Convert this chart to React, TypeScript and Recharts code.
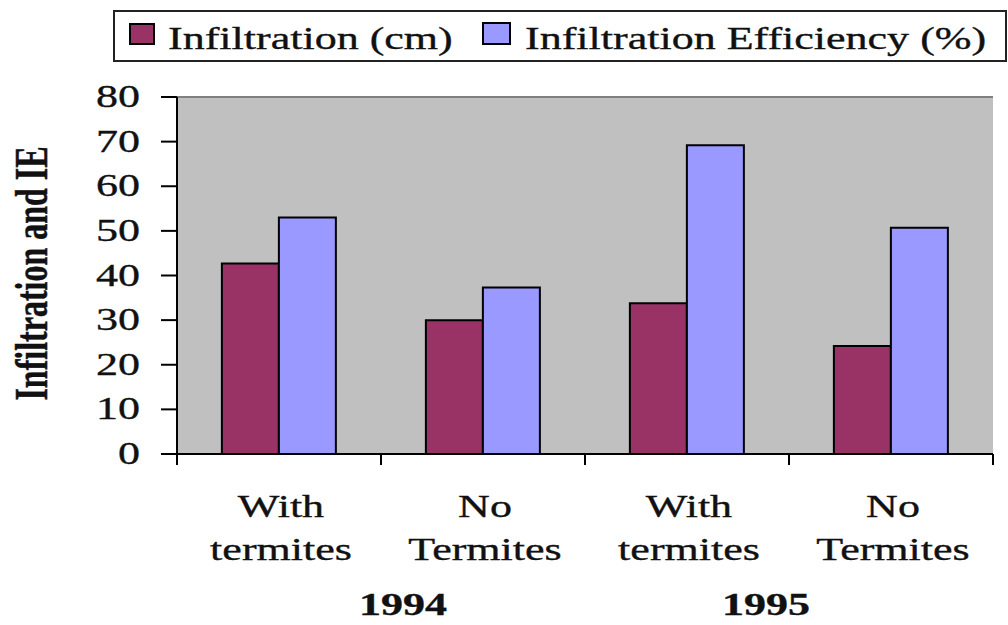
import { BarChart, Bar, XAxis, YAxis, CartesianGrid, Legend, ReferenceLine } from "recharts";

// reading the chart: two treatments per year
const LINE1 = ["With", "No", "With", "No"];
const LINE2 = ["termites", "Termites", "termites", "Termites"];
const YEARS = ["1994", "", "1995", ""];
const INFILTRATION = [42.7, 30.0, 33.8, 24.2];
const EFFICIENCY = [53.0, 37.3, 69.2, 50.7];
const Y_TICKS = [0, 10, 20, 30, 40, 50, 60, 70, 80];

const SERIES = [
  { key: "inf", name: "Infiltration (cm)", color: "#993366" },
  { key: "ie", name: "Infiltration Efficiency (%)", color: "#9999FF" },
];

const data = LINE1.map((_, i) => ({
  key: `c${i}`,
  inf: INFILTRATION[i],
  ie: EFFICIENCY[i],
}));

const FONT = "'Liberation Serif', 'Times New Roman', serif";
const SX = 1.42; // source image is stretched sideways

function SText({ x, y, anchor = "middle", bold = false, rotate = false, size = 31, children }: any) {
  return (
    <text
      transform={`translate(${x},${y}) scale(${SX},1)${rotate ? " rotate(-90)" : ""}`}
      textAnchor={anchor}
      fontFamily={FONT}
      fontSize={size}
      fontWeight={bold ? "bold" : "normal"}
      fill="#111"
      stroke="#111"
      strokeWidth={0.35}
    >
      {children}
    </text>
  );
}

const YTick = ({ x, y, payload }: any) => (
  <SText x={x} y={y + 10} anchor="end">
    {payload.value}
  </SText>
);

const XTick = ({ x, y, payload, index }: any) => {
  const half = payload?.offset || 102;
  const nudge = index === 0 ? 22 : -23;
  return (
    <g>
      <line x1={x - half} y1={y} x2={x - half} y2={y + 11} stroke="#000" strokeWidth={2} />
      {index === LINE1.length - 1 && (
        <line x1={x + half} y1={y} x2={x + half} y2={y + 11} stroke="#000" strokeWidth={2} />
      )}
      <SText x={x + 2} y={y + 63}>{LINE1[index]}</SText>
      <SText x={x + 2} y={y + 106}>{LINE2[index]}</SText>
      {YEARS[index] && (
        <SText x={x + half + nudge} y={y + 161} bold>
          {YEARS[index]}
        </SText>
      )}
    </g>
  );
};

const LegendBox = () => (
  <svg width={895} height={52} style={{ display: "block" }}>
    <rect x={1} y={1} width={892} height={50} fill="#fff" stroke="#222" strokeWidth={2} />
    <rect x={17} y={14} width={24} height={20} fill={SERIES[0].color} stroke="#000" strokeWidth={2} />
    <SText x={55} y={39} anchor="start">{SERIES[0].name}</SText>
    <rect x={370} y={13} width={27} height={21} fill={SERIES[1].color} stroke="#000" strokeWidth={2} />
    <SText x={412} y={39} anchor="start">{SERIES[1].name}</SText>
  </svg>
);

export default function App() {
  return (
    <div style={{ position: "absolute", left: 0, top: 0, background: "#fff" }}>
      <BarChart
        width={1008}
        height={625}
        data={data}
        margin={{ top: 97, right: 15, bottom: 0, left: 0 }}
        barCategoryGap="22%"
        barGap={0}
      >
        <CartesianGrid fill="#C0C0C0" horizontal={false} vertical={false} />
        <XAxis
          dataKey="key"
          interval={0}
          height={171}
          tickSize={0}
          tickMargin={0}
          tickLine={false}
          axisLine={{ stroke: "#000", strokeWidth: 2 }}
          tick={<XTick />}
        />
        <YAxis
          domain={[0, 80]}
          ticks={Y_TICKS}
          width={177}
          tickSize={16}
          tickMargin={21}
          axisLine={{ stroke: "#000", strokeWidth: 2 }}
          tickLine={{ stroke: "#000", strokeWidth: 2 }}
          tick={<YTick />}
          label={{
            content: ({ viewBox }: any) => (
              <SText x={viewBox.x + 47} y={viewBox.y + viewBox.height / 2 - 2} bold rotate size={32}>
                Infiltration and IE
              </SText>
            ),
          }}
        />
        <YAxis
          yAxisId="r"
          orientation="right"
          domain={[0, 80]}
          width={0}
          tick={false}
          tickLine={false}
          axisLine={{ stroke: "#808080", strokeWidth: 2 }}
        />
        <ReferenceLine y={80} stroke="#808080" strokeWidth={2} />
        <Legend
          layout="horizontal"
          verticalAlign="middle"
          align="center"
          wrapperStyle={{ top: 10, left: 113, width: 895, height: 52 }}
          content={<LegendBox />}
        />
        {SERIES.map((s) => (
          <Bar
            key={s.key}
            dataKey={s.key}
            name={s.name}
            fill={s.color}
            stroke="#000"
            strokeWidth={2}
            isAnimationActive={false}
          />
        ))}
      </BarChart>
    </div>
  );
}
